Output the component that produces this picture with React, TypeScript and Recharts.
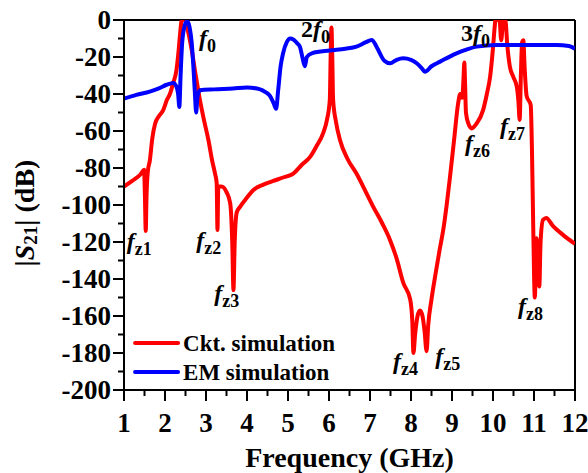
import React from 'react';
import { LineChart, Line, XAxis, YAxis, ReferenceLine, ReferenceDot } from 'recharts';

const cktFreq = [1.0, 1.2, 1.4, 1.49, 1.51, 1.53, 1.55, 1.58, 1.63, 1.69, 1.76, 1.85, 1.95, 2.05, 2.12, 2.2, 2.28, 2.33, 2.37, 2.41, 2.49, 2.55, 2.65, 2.75, 2.85, 2.95, 3.06, 3.15, 3.22, 3.26, 3.28, 3.3, 3.38, 3.5, 3.59, 3.64, 3.67, 3.7, 3.75, 3.83, 4.0, 4.15, 4.4, 4.64, 4.9, 5.13, 5.35, 5.54, 5.7, 5.86, 5.95, 6.02, 6.04, 6.06, 6.08, 6.1, 6.17, 6.27, 6.45, 6.67, 6.9, 7.08, 7.3, 7.49, 7.65, 7.81, 7.98, 8.03, 8.06, 8.1, 8.16, 8.22, 8.28, 8.33, 8.38, 8.42, 8.5, 8.6, 8.7, 8.79, 8.87, 8.95, 9.05, 9.15, 9.2, 9.25, 9.28, 9.3, 9.32, 9.34, 9.4, 9.48, 9.6, 9.76, 9.85, 9.93, 10.0, 10.04, 10.06, 10.16, 10.2, 10.24, 10.26, 10.3, 10.35, 10.41, 10.5, 10.58, 10.62, 10.65, 10.68, 10.71, 10.74, 10.77, 10.82, 10.92, 10.95, 10.98, 11.02, 11.06, 11.11, 11.13, 11.16, 11.22, 11.3, 11.45, 11.7, 12.0];
const cktDb = [-90, -87, -83.5, -81, -95, -114, -95, -82, -76, -64, -56, -52, -49, -43, -40, -34, -27, -17, -7, 0, 0, -5, -16, -30, -43, -54, -65, -76, -83, -88, -113.5, -90, -90, -93, -99, -120, -146, -120, -104, -101, -96, -92, -89, -87, -85, -83, -78, -74, -68, -61, -54, -43, -20, -4, -20, -43, -55, -65, -75, -83, -93, -101, -110, -119, -129, -142, -151, -162, -180, -170, -160, -157, -160, -168, -179, -165, -151, -137, -124, -113, -100, -85, -65, -45, -40, -42, -32, -23, -35, -50, -56, -58.6, -56, -48.6, -40, -30.6, -15, -4, 0, 0, -11, -2, 0, 0, -14, -25, -31, -36, -44, -54, -30, -12, -11, -25, -41, -46, -70, -110, -150, -118, -142, -144, -120, -108, -107, -111, -116, -121];

const emFreq = [1.0, 1.3, 1.63, 1.85, 2.04, 2.2, 2.28, 2.32, 2.35, 2.38, 2.42, 2.48, 2.54, 2.6, 2.65, 2.7, 2.73, 2.76, 2.79, 2.85, 3.2, 3.66, 4.0, 4.32, 4.45, 4.56, 4.65, 4.71, 4.76, 4.82, 4.88, 4.97, 5.05, 5.13, 5.22, 5.29, 5.35, 5.41, 5.46, 5.58, 6.02, 6.4, 6.67, 6.9, 7.04, 7.15, 7.24, 7.35, 7.49, 7.65, 7.81, 8.0, 8.14, 8.26, 8.34, 8.5, 8.71, 9.11, 9.35, 9.6, 10.09, 11.0, 11.55, 11.85, 12.0];
const emDb = [-42.5, -40.5, -38.7, -37, -35, -34, -36, -40, -47, -30, -12, -3, -0.5, -4, -12, -28, -40, -50, -42, -38, -37.5, -37, -36.5, -37.5, -39, -41, -45, -48, -38, -25, -18, -12, -10, -10.5, -12.5, -14.4, -20, -25, -20, -18, -16.5, -15.5, -14.4, -12, -10.8, -14, -18, -22, -23.4, -21.5, -20.7, -21.5, -23.4, -26, -28, -25, -22.5, -18, -16, -14.4, -13.5, -13.5, -13.5, -14, -15.5];

const xMajorTicks = [1, 2, 3, 4, 5, 6, 7, 8, 9, 10, 11, 12];
const xAllTicks = [1, 1.5, 2, 2.5, 3, 3.5, 4, 4.5, 5, 5.5, 6, 6.5, 7, 7.5, 8, 8.5, 9, 9.5, 10, 10.5, 11, 11.5, 12];
const yMajorTicks = [0, -20, -40, -60, -80, -100, -120, -140, -160, -180, -200];
const yAllTicks = [0, -10, -20, -30, -40, -50, -60, -70, -80, -90, -100, -110, -120, -130, -140, -150, -160, -170, -180, -190, -200];

const annFreq = [2.83, 5.32, 9.22, 1.07, 2.76, 3.2, 7.56, 8.59, 9.32, 10.17, 10.61];
const annDb = [-14, -9.2, -11.4, -124, -123, -152, -188.6, -186, -70.8, -61.6, -159];
const annPre = ['', '2', '3', '', '', '', '', '', '', '', ''];
const annSub = ['0', '0', '0', 'z1', 'z2', 'z3', 'z4', 'z5', 'z6', 'z7', 'z8'];

const seriesNames = ['Ckt. simulation', 'EM simulation'];
const seriesColors = ['#ff0000', '#0000ff'];
// legend anchor rows, in data coordinates (frequency, dB)
const legendFreq = [1.27, 1.27];
const legendDb = [-174.6, -190.3];

const cktData = cktFreq.map((f, i) => ({ f, v: cktDb[i] }));
const emData = emFreq.map((f, i) => ({ f, v: emDb[i] }));

const FONT = '"Liberation Serif", "Times New Roman", serif';

const XTick = (props: any) => {
  const { x, y, payload } = props;
  const v = payload.value;
  const major = xMajorTicks.includes(v);
  return (
    <g>
      <line x1={x} x2={x} y1={y} y2={y + (major ? 11 : 6)} stroke="#000" strokeWidth={2} />
      {major && (
        <text x={x} y={y + 42} textAnchor="middle" fontFamily={FONT} fontWeight="bold" fontSize={27} fill="#000">
          {v}
        </text>
      )}
    </g>
  );
};

const YTick = (props: any) => {
  const { x, y, payload } = props;
  const v = payload.value;
  const major = yMajorTicks.includes(v);
  return (
    <g>
      <line x1={x} x2={x - (major ? 11 : 6)} y1={y} y2={y} stroke="#000" strokeWidth={2} />
      {major && (
        <text x={x - 13} y={y + 9} textAnchor="end" fontFamily={FONT} fontWeight="bold" fontSize={27} fill="#000">
          {v}
        </text>
      )}
    </g>
  );
};

const makeAnn = (pre: string, sub: string) => (p: any) => (
  <text x={p.cx} y={p.cy} fontFamily={FONT} fontWeight="bold" fontSize={24} fill="#000">
    {pre ? <tspan>{pre}</tspan> : null}
    <tspan fontStyle="italic">f</tspan>
    <tspan fontSize={18} dy={6}>{sub}</tspan>
  </text>
);

const makeLegendRow = (name: string, color: string) => (p: any) => (
  <g>
    <line x1={p.cx} x2={p.cx + 43} y1={p.cy} y2={p.cy} stroke={color} strokeWidth={4} strokeLinecap="round" />
    <text x={p.cx + 48} y={p.cy + 8} fontFamily={FONT} fontWeight="bold" fontSize={23} fill="#000">
      {name}
    </text>
  </g>
);

const XLabel = (p: any) => {
  const vb = p.viewBox || {};
  const cx = (vb.x ?? 124) + (vb.width ?? 451) / 2;
  const base = (vb.y ?? 390) + 77;
  return (
    <text x={cx} y={base} textAnchor="middle" fontFamily={FONT} fontWeight="bold" fontSize={28} fill="#000">
      Frequency (GHz)
    </text>
  );
};

export default function App() {
  return (
    <div style={{ position: 'absolute', left: 0, top: 0, width: 588, height: 473, background: '#fff' }}>
      <LineChart width={588} height={473} margin={{ top: 20, right: 13, bottom: 0, left: 0 }}>
        <XAxis
          dataKey="f"
          type="number"
          domain={[1, 12]}
          ticks={xAllTicks}
          interval={0}
          allowDataOverflow
          height={83}
          tickSize={0}
          tickMargin={0}
          tick={<XTick />}
          axisLine={{ stroke: '#000', strokeWidth: 2 }}
          label={XLabel}
        />
        <YAxis
          type="number"
          domain={[-200, 0]}
          ticks={yAllTicks}
          interval={0}
          allowDataOverflow
          width={124}
          tickSize={0}
          tickMargin={0}
          tick={<YTick />}
          axisLine={{ stroke: '#000', strokeWidth: 2 }}
          label={(p: any) => {
            const vb = p.viewBox || {};
            const cx = 24;
            const cy = (vb.y ?? 20) + (vb.height ?? 370) / 2 + 8;
            return (
              <text x={cx} y={cy} transform={`rotate(-90, ${cx}, ${cy})`} textAnchor="middle" dominantBaseline="central" fontFamily={FONT} fontWeight="bold" fontSize={28} fill="#000">
                |<tspan fontStyle="italic">S</tspan><tspan fontSize={19} dy={6}>21</tspan><tspan dy={-6}>| (dB)</tspan>
              </text>
            );
          }}
        />
        <ReferenceLine y={0} stroke="#000" strokeWidth={2} />
        <ReferenceLine x={12} stroke="#000" strokeWidth={2} />
        <Line data={cktData} dataKey="v" name={seriesNames[0]} type="monotone" stroke={seriesColors[0]} strokeWidth={4} dot={false} isAnimationActive={false} />
        <Line data={emData} dataKey="v" name={seriesNames[1]} type="monotone" stroke={seriesColors[1]} strokeWidth={4} dot={false} isAnimationActive={false} />
        {annFreq.map((f, i) => (
          <ReferenceDot key={'a' + i} x={f} y={annDb[i]} r={1} ifOverflow="visible" shape={makeAnn(annPre[i], annSub[i])} />
        ))}
        {seriesNames.map((n, i) => (
          <ReferenceDot key={'l' + i} x={legendFreq[i]} y={legendDb[i]} r={1} ifOverflow="visible" shape={makeLegendRow(n, seriesColors[i])} />
        ))}
      </LineChart>
    </div>
  );
}
